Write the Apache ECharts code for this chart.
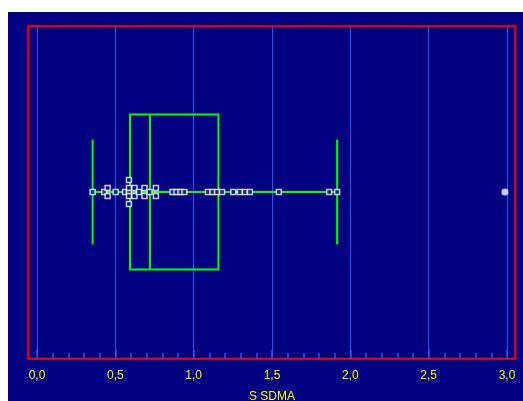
<!DOCTYPE html>
<html>
<head>
<meta charset="utf-8">
<script src="https://cdn.jsdelivr.net/npm/echarts@6/dist/echarts.min.js"></script>
<style>
  html, body { margin: 0; padding: 0; background: #ffffff; }
  #chart { width: 523px; height: 401px; }
</style>
</head>
<body>
<div id="chart"></div>
<script>
// S_SDMA observations (individual values)
const sdmaValues = [
  0.355, 0.43, 0.451, 0.451, 0.502, 0.562,
  0.587, 0.587, 0.587, 0.587, 0.587,
  0.622, 0.622, 0.651, 0.686, 0.686, 0.718, 0.759, 0.759,
  0.865, 0.890, 0.916, 0.941,
  1.091, 1.120, 1.149, 1.181,
  1.253, 1.295, 1.327, 1.359,
  1.544, 1.865, 1.916
];
// Values beyond the whiskers
const outlierValues = [2.987];
// Box statistics: [lower whisker, Q1, median, Q3, upper whisker]
const boxStats = [0.355, 0.594, 0.721, 1.158, 1.916];
// Tick labels of the value axis (decimal comma)
const tickLabels = ['0,0', '0,5', '1,0', '1,5', '2,0', '2,5', '3,0'];
const axisTitle = 'S SDMA';

const chart = echarts.init(document.getElementById('chart'));

const W = 523, H = 401;
const gridTop = 26, gridBottom = 43;
const plotH = H - gridTop - gridBottom;
const pxToY = 2 / plotH;        // y axis spans -1..1

// Spread repeated values vertically so each one stays visible
function stackOffsets(values) {
  const counts = {};
  values.forEach(v => { counts[v] = (counts[v] || 0) + 1; });
  const seen = {};
  return values.map(v => {
    const n = counts[v];
    const i = seen[v] = (seen[v] === undefined ? 0 : seen[v] + 1);
    let off;
    if (n % 2 === 1) {
      if (i === 0) off = 0;
      else { const k = Math.ceil(i / 2); off = (i % 2 ? -1 : 1) * (8 * k - 4); }
    } else {
      const k = Math.floor(i / 2) + 1; off = (i % 2 ? 1 : -1) * (8 * k - 4);
    }
    return [v, off * pxToY];
  });
}

const boxHalf = 77.5 * pxToY;
const capHalf = 52.5 * pxToY;
const green = '#00ff00';
const gridBlue = '#1a5cff';

chart.setOption({
  backgroundColor: '#ffffff',
  animation: false,
  graphic: [
    { type: 'rect', z: -10, shape: { x: 8, y: 12, width: W - 8, height: H - 12 }, style: { fill: '#000080' } },
    { type: 'rect', z: 100, shape: { x: 28.3, y: 26.3, width: 487, height: 332.5 }, style: { fill: null, stroke: '#ff0000', lineWidth: 2 } }
  ],
  grid: { left: 37, right: W - 507, top: gridTop, bottom: gridBottom, containLabel: false, outerBoundsMode: 'none' },
  xAxis: {
    type: 'value', min: 0, max: 3, interval: 0.5, position: 'bottom',
    axisLine: { show: false, onZero: false },
    axisTick: { show: true, inside: true, length: 8, lineStyle: { color: gridBlue, width: 1.5 } },
    minorTick: { show: true, splitNumber: 5, length: 5, lineStyle: { color: gridBlue, width: 1.5 } },
    splitLine: { show: true, lineStyle: { color: gridBlue, width: 1 } },
    axisLabel: {
      color: '#ffff00', fontFamily: 'Liberation Sans, Arial', fontSize: 12, margin: 12,
      formatter: (v) => tickLabels[Math.round(v * 2)]
    },
    name: axisTitle, nameLocation: 'middle', nameGap: 33,
    nameTextStyle: { color: '#ffff00', fontFamily: 'Liberation Sans, Arial', fontSize: 12 }
  },
  yAxis: { type: 'value', min: -1, max: 1, show: false },
  series: [
    {
      type: 'custom',
      z: 2,
      data: [boxStats],
      renderItem: function (params, api) {
        const lo = api.coord([boxStats[0], 0]);
        const q1 = api.coord([boxStats[1], boxHalf]);
        const md = api.coord([boxStats[2], 0]);
        const q3 = api.coord([boxStats[3], -boxHalf]);
        const hi = api.coord([boxStats[4], 0]);
        const capT = api.coord([0, capHalf])[1];
        const capB = api.coord([0, -capHalf])[1];
        const st = { stroke: green, lineWidth: 2, fill: null };
        return {
          type: 'group',
          children: [
            { type: 'line', shape: { x1: lo[0], y1: lo[1], x2: hi[0], y2: hi[1] }, style: st },
            { type: 'line', shape: { x1: lo[0], y1: capT, x2: lo[0], y2: capB }, style: st },
            { type: 'line', shape: { x1: hi[0], y1: capT, x2: hi[0], y2: capB }, style: st },
            { type: 'rect', shape: { x: q1[0], y: q1[1], width: q3[0] - q1[0], height: q3[1] - q1[1] }, style: st },
            { type: 'line', shape: { x1: md[0], y1: q1[1], x2: md[0], y2: q3[1] }, style: st }
          ]
        };
      }
    },
    {
      type: 'scatter',
      z: 5,
      symbol: 'rect',
      symbolSize: 5,
      itemStyle: { color: '#000080', borderColor: '#ffffff', borderWidth: 1.5 },
      data: stackOffsets(sdmaValues)
    },
    {
      type: 'scatter',
      z: 5,
      symbol: 'circle',
      symbolSize: 7,
      itemStyle: { color: '#ffffff' },
      data: outlierValues.map(v => [v, 0])
    }
  ]
});
</script>
</body>
</html>
